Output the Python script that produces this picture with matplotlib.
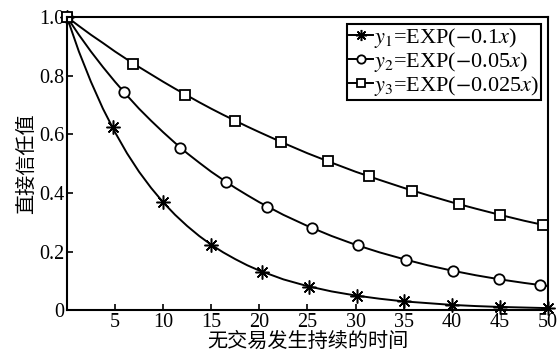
import matplotlib
matplotlib.use("Agg")
import matplotlib.pyplot as plt

plt.rcParams['font.family'] = ['Liberation Serif', 'Noto Sans CJK SC']
plt.rcParams['mathtext.fontset'] = 'stix'

### Curve values
curve_x = [0, 1.25, 2.5, 3.75, 5, 6.25, 7.5, 8.75, 10, 11.25, 12.5, 13.75, 15, 16.25,
           17.5, 18.75, 20, 22.5, 25, 27.5, 30, 32.5, 35, 37.5, 40, 42.5, 45, 47.5, 50]
curve_y1 = [1.000, 0.882, 0.779, 0.687, 0.607, 0.535, 0.472, 0.417, 0.368, 0.325, 0.287,
            0.253, 0.223, 0.197, 0.174, 0.153, 0.135, 0.105, 0.082, 0.064, 0.050, 0.039,
            0.030, 0.024, 0.018, 0.014, 0.011, 0.009, 0.007]
curve_y2 = [1.000, 0.939, 0.882, 0.829, 0.779, 0.732, 0.687, 0.646, 0.607, 0.570, 0.535,
            0.503, 0.472, 0.444, 0.417, 0.392, 0.368, 0.325, 0.287, 0.253, 0.223, 0.197,
            0.174, 0.153, 0.135, 0.119, 0.105, 0.093, 0.082]
curve_y3 = [1.000, 0.969, 0.939, 0.911, 0.882, 0.855, 0.829, 0.804, 0.779, 0.755, 0.732,
            0.709, 0.687, 0.666, 0.646, 0.626, 0.607, 0.570, 0.535, 0.503, 0.472, 0.444,
            0.417, 0.392, 0.368, 0.346, 0.325, 0.305, 0.287]

### Marker points
mark_x1 = [0, 4.8, 10, 15, 20.3, 25.2, 30.1, 35, 40, 45, 50]
mark_y1 = [1.000, 0.625, 0.368, 0.223, 0.131, 0.080, 0.049, 0.030, 0.018, 0.011, 0.007]
mark_x2 = [0, 5.9, 11.8, 16.5, 20.8, 25.5, 30.2, 35.2, 40.1, 44.9, 49.2]
mark_y2 = [1.000, 0.745, 0.554, 0.438, 0.353, 0.279, 0.221, 0.172, 0.135, 0.106, 0.085]
mark_x3 = [0, 6.9, 12.3, 17.5, 22.2, 27.1, 31.4, 35.9, 40.7, 45, 49.5]
mark_y3 = [1.000, 0.841, 0.735, 0.646, 0.574, 0.508, 0.456, 0.408, 0.361, 0.325, 0.290]

labels = [r'$y_1$=EXP($-$0.1$x$)', r'$y_2$=EXP($-$0.05$x$)', r'$y_3$=EXP($-$0.025$x$)']
xticks = [5, 10, 15, 20, 25, 30, 35, 40, 45, 50]
yticks = [0, 0.2, 0.4, 0.6, 0.8, 1.0]
ytick_labels = ['0', '0.2', '0.4', '0.6', '0.8', '1.0']

fig = plt.figure(figsize=(5.57, 3.59), dpi=100)
ax = fig.add_axes([0.120, 0.136, 0.864, 0.817])

styles = [((8, 2, 0), 'k', 10, 1.1), ('o', 'white', 7.5, 1.3), ('s', 'white', 7.5, 1.3)]
curves = [curve_y1, curve_y2, curve_y3]
marks = [(mark_x1, mark_y1), (mark_x2, mark_y2), (mark_x3, mark_y3)]
handles = []
for cy, (mx, my), (m, fc, ms, mw), lab in zip(curves, marks, styles, labels):
    ax.plot(curve_x, cy, color='k', lw=1.4)
    ax.plot(mx, my, ls='none', marker=m, ms=ms, mfc=fc, mec='k', mew=mw, clip_on=False)
    h, = ax.plot([], [], color='k', lw=1.4, marker=m, ms=ms * 0.8, mfc=fc, mec='k', mew=mw,
                 label=lab)
    handles.append(h)

ax.set_xlim(0, 50)
ax.set_ylim(0, 1.0)
ax.set_xticks(xticks)
ax.set_yticks(yticks)
ax.set_yticklabels(ytick_labels)
ax.tick_params(direction='in', length=4, width=1.2, labelsize=14.5, pad=2)
for s in ax.spines.values():
    s.set_linewidth(1.5)

ax.set_xlabel('无交易发生持续的时间', fontsize=14.5, family=['Noto Sans CJK SC'], labelpad=-1)
ax.set_ylabel('直接信任值', fontsize=14.5, family=['Noto Sans CJK SC'], labelpad=1)

leg = ax.legend(handles=handles, loc='upper right', fontsize=16, fancybox=False,
                edgecolor='k', framealpha=1, handlelength=1.1, handletextpad=0.05,
                borderpad=0.1, labelspacing=0.0, borderaxespad=0.3)
leg.get_frame().set_linewidth(1.5)

fig.savefig('out.png', dpi=100)
